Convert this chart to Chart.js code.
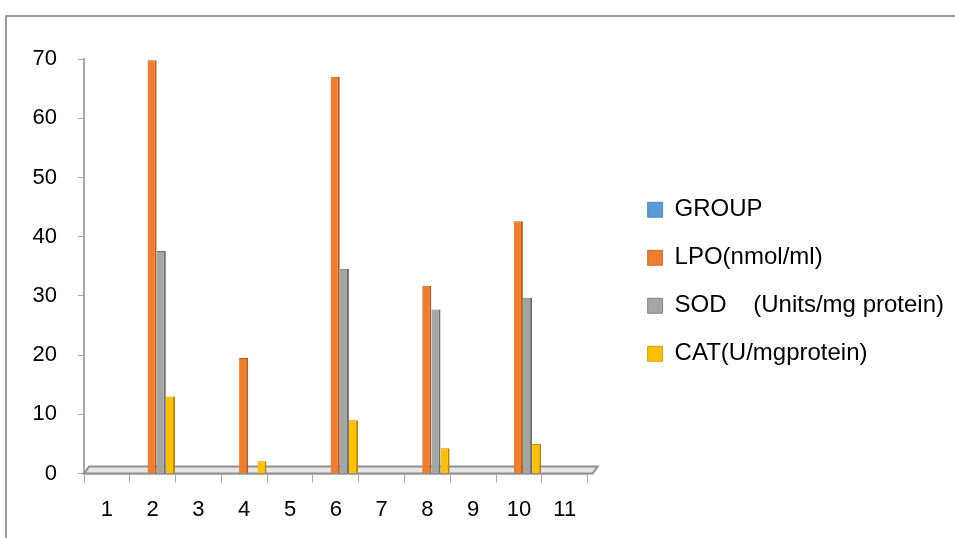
<!DOCTYPE html>
<html>
<head>
<meta charset="utf-8">
<script src="https://cdn.jsdelivr.net/npm/chart.js@4/dist/chart.umd.min.js"></script>
<style>
  html, body { margin: 0; padding: 0; background: #fff; }
  #wrap { position: relative; width: 955px; height: 538px; overflow: hidden; }
  #frame { position: absolute; left: 5px; top: 15px; width: 1000px; height: 600px;
           border-top: 2px solid #9a9a9a; border-left: 2px solid #9a9a9a; }
  #chart { position: absolute; left: 0; top: 0; }
</style>
</head>
<body>
<div id="wrap">
  <div id="frame"></div>
  <canvas id="chart" width="955" height="538"></canvas>
</div>
<script>
const categories = ['1', '2', '3', '4', '5', '6', '7', '8', '9', '10', '11'];
const groupVals = [0, 0, 0, 0, 0, 0, 0, 0, 0, 0, 0];
const lpoVals   = [0, 69.8, 0, 19.5, 0, 67.0, 0, 31.7, 0, 42.6, 0];
const sodVals   = [0, 37.6, 0, 0, 0, 34.6, 0, 27.7, 0, 29.7, 0];
const catVals   = [0, 13.0, 0, 2.1, 0, 9.0, 0, 4.3, 0, 5.0, 0];
const seriesNames = ['GROUP', 'LPO(nmol/ml)', 'SOD    (Units/mg protein)', 'CAT(U/mgprotein)'];

const FONT = "'Liberation Sans', Arial, sans-serif";
const DEPTH_SHIFT = 4;

// thin 3D-looking floor under the bars, drawn at value 0
const floorPlugin = {
  id: 'floor',
  beforeDatasetsDraw(chart) {
    const { ctx, chartArea } = chart;
    const y0 = chart.scales.y.getPixelForValue(0);
    const l = chartArea.left, r = chartArea.right;
    ctx.save();
    ctx.beginPath();
    ctx.moveTo(l, y0);
    ctx.lineTo(l + 5, y0 - 7);
    ctx.lineTo(r + 10, y0 - 7);
    ctx.lineTo(r + 5, y0);
    ctx.closePath();
    ctx.fillStyle = '#e6e6e6';
    ctx.fill();
    ctx.strokeStyle = '#8f8f8f';
    ctx.lineWidth = 2;
    ctx.stroke();
    ctx.restore();
    ctx.save();
    ctx.translate(DEPTH_SHIFT, 0);
  },
  afterDatasetsDraw(chart) {
    chart.ctx.restore();
  }
};

function makeSet(label, data, color, side) {
  return {
    label,
    data,
    backgroundColor: color,
    borderColor: side,
    borderWidth: { top: 1, right: 2, left: 0, bottom: 0 },
    borderSkipped: 'bottom',
    categoryPercentage: 0.8,
    barPercentage: 1.0
  };
}

new Chart(document.getElementById('chart'), {
  type: 'bar',
  data: {
    labels: categories,
    datasets: [
      makeSet(seriesNames[0], groupVals, '#5B9BD5', '#3f78ad'),
      makeSet(seriesNames[1], lpoVals, '#ED7D31', '#b65c1f'),
      makeSet(seriesNames[2], sodVals, '#A5A5A5', '#6f6f6f'),
      makeSet(seriesNames[3], catVals, '#FFC000', '#b88a00')
    ]
  },
  options: {
    responsive: false,
    animation: false,
    layout: { padding: { top: 59, left: 32, right: 1, bottom: 1 } },
    plugins: {
      tooltip: { enabled: false },
      legend: {
        position: 'right',
        fullSize: false,
        maxWidth: 400,
        title: { display: true, text: '', font: { size: 10, lineHeight: 1 }, padding: { top: 21, bottom: 0 } },
        labels: {
          boxWidth: 15,
          boxHeight: 15,
          padding: 24,
          color: '#000',
          font: { family: FONT, size: 24 }
        }
      }
    },
    scales: {
      x: {
        grid: { drawOnChartArea: false, drawTicks: true, tickLength: 9, color: '#a6a6a6', offset: true },
        border: { display: true, color: '#a6a6a6', width: 1.5 },
        ticks: { color: '#000', padding: 14, font: { family: FONT, size: 22 }, maxRotation: 0 }
      },
      y: {
        min: 0,
        max: 70,
        ticks: { stepSize: 10, color: '#000', padding: 21, font: { family: FONT, size: 22 } },
        grid: { drawOnChartArea: false, drawTicks: true, tickLength: 6, color: '#a6a6a6' },
        border: { display: true, color: '#a6a6a6', width: 2 },
        afterFit(s) { s.width = 52; }
      },
      gap: {
        position: 'right',
        display: true,
        grid: { display: false },
        border: { display: false },
        ticks: { display: false },
        afterFit(s) { s.width = 36; }
      }
    }
  },
  plugins: [floorPlugin]
});
</script>
</body>
</html>
